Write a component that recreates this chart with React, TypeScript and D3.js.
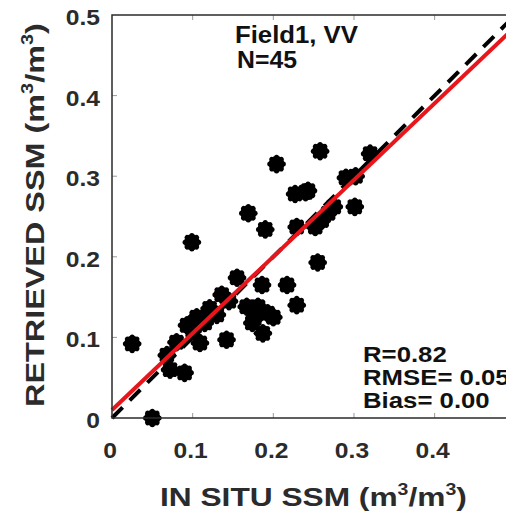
import React, { useEffect, useRef } from 'react';
import * as d3 from 'd3';

// in situ vs retrieved soil moisture
const insitu = [0.258, 0.204, 0.320, 0.290, 0.302, 0.227, 0.243, 0.301, 0.268, 0.169,
  0.190, 0.229, 0.252, 0.099, 0.255, 0.155, 0.186, 0.217, 0.229, 0.136,
  0.167, 0.193, 0.174, 0.187, 0.121, 0.130, 0.105, 0.093, 0.109, 0.142,
  0.025, 0.080, 0.068, 0.072, 0.090, 0.050, 0.115, 0.181, 0.178, 0.260,
  0.275, 0.145, 0.100, 0.200, 0.240];
const retrieved = [0.331, 0.315, 0.328, 0.298, 0.300, 0.278, 0.282, 0.262, 0.254, 0.254,
  0.234, 0.237, 0.237, 0.218, 0.193, 0.174, 0.165, 0.165, 0.140, 0.153,
  0.138, 0.130, 0.118, 0.105, 0.136, 0.128, 0.125, 0.115, 0.093, 0.097,
  0.092, 0.094, 0.078, 0.060, 0.056, 0.000, 0.118, 0.138, 0.128, 0.245,
  0.262, 0.145, 0.108, 0.125, 0.280];

const xTicks = [0, 0.1, 0.2, 0.3, 0.4];
const yTicks = [0, 0.1, 0.2, 0.3, 0.4, 0.5];
const fitSlope = 0.951;
const fitIntercept = 0.010;
const titleLines = ['Field1, VV', 'N=45'];
const statLines = ['R=0.82', 'RMSE= 0.05', 'Bias= 0.00'];

const W = 506, H = 515;

function App() {
  const ref = useRef<SVGSVGElement>(null);

  useEffect(() => {
    const svg = d3.select(ref.current);
    svg.selectAll('*').remove();

    const x = d3.scaleLinear().domain([0, 0.5]).range([112, 515.3]);
    const y = d3.scaleLinear().domain([0, 0.5]).range([418, 15]);
    const font = 'Liberation Sans, Arial, sans-serif';
    const gray = '#2b2b2b';

    // axis ticks (inward)
    const ticks = svg.append('g').attr('stroke', '#9a9a9a').attr('stroke-width', 1);
    xTicks.slice(1).forEach(v => {
      ticks.append('line').attr('x1', x(v)).attr('x2', x(v)).attr('y1', y(0)).attr('y2', y(0) - 5);
      ticks.append('line').attr('x1', x(v)).attr('x2', x(v)).attr('y1', y(0.5)).attr('y2', y(0.5) + 5);
    });
    yTicks.slice(1, 5).forEach(v => {
      ticks.append('line').attr('x1', x(0)).attr('x2', x(0) + 5).attr('y1', y(v)).attr('y2', y(v));
    });

    // scatter, drawn as heavy asterisks
    const pts = svg.append('g');
    insitu.forEach((v, i) => {
      const g = pts.append('g').attr('transform', `translate(${x(v)},${y(retrieved[i])})`);
      g.append('circle').attr('r', 8).attr('fill', '#000');
      [0, 45, 90, 135].forEach(a => {
        const r = (a * Math.PI) / 180, l = 6.8;
        g.append('line')
          .attr('x1', -l * Math.cos(r)).attr('y1', -l * Math.sin(r))
          .attr('x2', l * Math.cos(r)).attr('y2', l * Math.sin(r))
          .attr('stroke', '#000').attr('stroke-width', 5).attr('stroke-linecap', 'round');
      });
    });

    // 1:1 line
    svg.append('line')
      .attr('x1', x(0)).attr('y1', y(0)).attr('x2', x(0.5)).attr('y2', y(0.5))
      .attr('stroke', '#000').attr('stroke-width', 4).attr('stroke-dasharray', '15,10');

    // regression line
    const fit = d3.line<number>().x(d => x(d)).y(d => y(fitSlope * d + fitIntercept));
    svg.append('path').datum([0, 0.5]).attr('d', fit)
      .attr('stroke', '#e8161b').attr('stroke-width', 4).attr('fill', 'none');

    // axes box
    svg.append('path')
      .attr('d', `M${x(0.5)},${y(0.5)}H${x(0)}V${y(0)}H${x(0.5)}`)
      .attr('fill', 'none').attr('stroke', gray).attr('stroke-width', 1.5);

    // tick labels
    xTicks.forEach(v => {
      svg.append('text').text(v === 0 ? '0' : String(v))
        .attr('transform', `translate(${x(v) - 2},458) scale(1.12,1)`)
        .attr('text-anchor', 'middle').attr('font-family', font).attr('font-weight', 'bold')
        .attr('font-size', 22).attr('fill', gray);
    });
    yTicks.forEach(v => {
      svg.append('text').text(v === 0 ? '0' : String(v))
        .attr('transform', `translate(100,${y(v) + 10}) scale(1.12,1)`)
        .attr('text-anchor', 'end').attr('font-family', font).attr('font-weight', 'bold')
        .attr('font-size', 22).attr('fill', gray);
    });

    // stretch a text along its reading direction to a target length
    const fitText = (t: d3.Selection<SVGTextElement, unknown, null, undefined>, len: number, pre: string) => {
      const w = (t.node() as SVGTextElement).getComputedTextLength();
      t.attr('transform', `${pre} scale(${len / w},1)`);
    };

    const unitLabel = (lbl: string) => {
      const t = svg.append('text').attr('font-family', font).attr('font-weight', 'bold')
        .attr('font-size', 26).attr('fill', gray);
      t.append('tspan').text(lbl + ' (m');
      t.append('tspan').text('3').attr('font-size', 16).attr('dy', -11);
      t.append('tspan').text('/m').attr('dy', 11);
      t.append('tspan').text('3').attr('font-size', 16).attr('dy', -11);
      t.append('tspan').text(')').attr('dy', 11);
      return t;
    };
    fitText(unitLabel('IN SITU SSM'), 307, 'translate(160,506)');
    fitText(unitLabel('RETRIEVED SSM'), 384, 'translate(44,407) rotate(-90)');

    // annotations
    titleLines.forEach((s, i) => {
      const t = svg.append('text').text(s).attr('font-family', font).attr('font-weight', 'bold')
        .attr('font-size', 23).attr('fill', '#111');
      fitText(t, i === 0 ? 123 : 60, `translate(${i === 0 ? 235 : 237},${i === 0 ? 43 : 68})`);
    });
    statLines.forEach((s, i) => {
      svg.append('text').text(s).attr('font-family', font).attr('font-weight', 'bold')
        .attr('font-size', 23).attr('fill', '#111')
        .attr('transform', `translate(363,${362 + i * 23}) scale(1.12,1)`);
    });
  }, []);

  return (
    <svg ref={ref} width={W} height={H}
      style={{ position: 'absolute', left: 0, top: 0, background: '#fff' }} />
  );
}

export default App;
